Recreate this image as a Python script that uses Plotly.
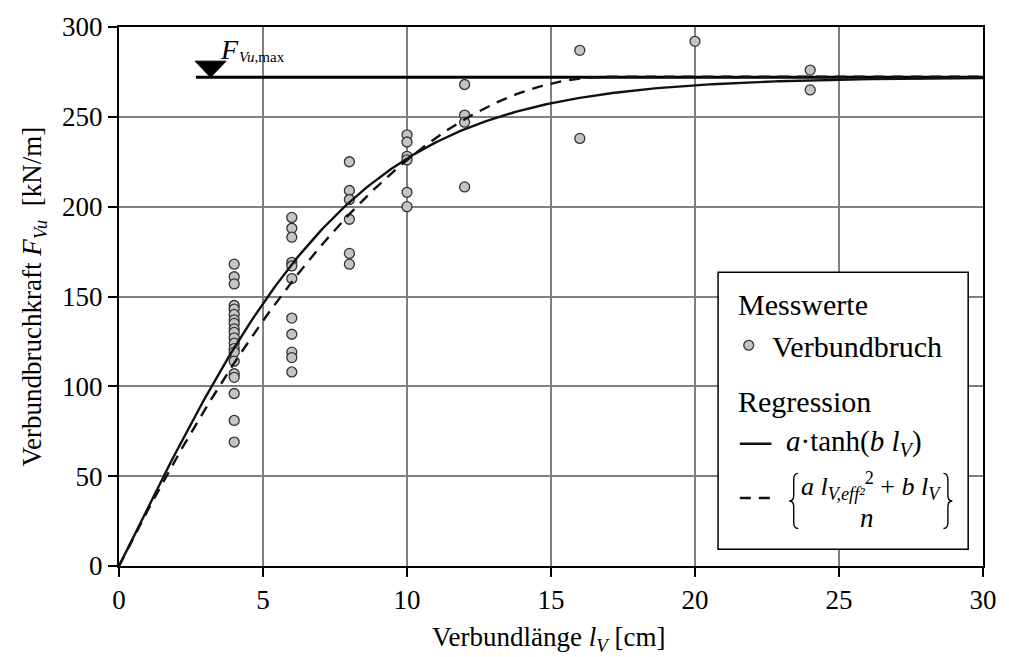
import numpy as np
import plotly.graph_objects as go

# Measured failure loads (Verbundbruch) per bond length
lengths_cm = [4] * 20 + [6] * 11 + [8] * 6 + [10] * 6 + [12] * 4 + [16] * 2 + [20] + [24] * 2
loads_kn_m = [
    168, 161, 157, 145, 143, 140, 137, 135, 132, 130, 127, 124, 121, 119, 114, 107, 105, 96, 81, 69,
    194, 188, 183, 169, 167, 160, 138, 129, 119, 116, 108,
    225, 209, 204, 193, 174, 168,
    240, 236, 228, 226, 208, 200,
    268, 251, 247, 211,
    287, 238,
    292,
    276, 265,
]

# Regression parameters
FVU_MAX = 272.0          # upper limit F_Vu,max [kN/m]
TANH_A, TANH_B = 272.0, 0.12
PARA_A, PARA_B = -0.94, 32.0
MAX_MARK_X = 3.18        # position of the F_Vu,max marker
MAX_LINE_START = 2.67

x_ticks = [0, 5, 10, 15, 20, 25, 30]
y_ticks = [0, 50, 100, 150, 200, 250, 300]

FONT = "Liberation Serif, Times New Roman, serif"

l = np.linspace(0, 30, 301)
f_tanh = TANH_A * np.tanh(TANH_B * l)
l_eff = -PARA_B / (2 * PARA_A)
l_clip = np.minimum(l, l_eff)
f_para = PARA_A * l_clip ** 2 + PARA_B * l_clip

# plot area in pixels (for placing the hand-drawn legend box)
PL, PR, PT, PB = 119, 993, 19, 566


def px(xp):
    return (xp - PL) / (PR - PL)


def py(yp):
    return (PB - yp) / (PB - PT)


fig = go.Figure()

fig.add_trace(go.Scatter(
    x=lengths_cm, y=loads_kn_m, mode="markers",
    marker=dict(size=10, color="#c4c4c4", line=dict(color="#333", width=1.3)),
    showlegend=False))

fig.add_trace(go.Scatter(
    x=[MAX_LINE_START, 30], y=[FVU_MAX, FVU_MAX], mode="lines",
    line=dict(color="black", width=3), hoverinfo="skip", showlegend=False))

fig.add_trace(go.Scatter(
    x=l, y=f_para, mode="lines",
    line=dict(color="#111", width=2.4, dash="11px,8px"), showlegend=False))

fig.add_trace(go.Scatter(
    x=l, y=f_tanh, mode="lines",
    line=dict(color="#111", width=2.4), showlegend=False))

# F_Vu,max marker triangle
tri_w, tri_h = 1.08, 9.0
fig.add_shape(type="path", xref="x", yref="y", layer="above",
              path=(f"M {MAX_MARK_X - tri_w / 2},{FVU_MAX + tri_h} "
                    f"L {MAX_MARK_X + tri_w / 2},{FVU_MAX + tri_h} "
                    f"L {MAX_MARK_X},{FVU_MAX} Z"),
              fillcolor="black", line=dict(color="black", width=1))

ann = []
ann.append(dict(x=px(219), y=py(42), xref="paper", yref="paper", xanchor="left", yanchor="middle",
                text="<i>F</i>", showarrow=False,
                font=dict(family=FONT, size=28, color="black")))
ann.append(dict(x=px(238), y=py(49), xref="paper", yref="paper", xanchor="left", yanchor="middle",
                text="<i>Vu</i>,max", showarrow=False,
                font=dict(family=FONT, size=15, color="black")))

# axis titles
ann.append(dict(x=px(33), y=0.5, xref="paper", yref="paper", textangle=-90,
                xanchor="center", yanchor="middle", showarrow=False,
                text="Verbundbruchkraft <i>F</i><sub><i>Vu</i></sub>  [kN/m]",
                font=dict(family=FONT, size=27, color="black")))
ann.append(dict(x=px(553), y=py(640), xref="paper", yref="paper",
                xanchor="center", yanchor="middle", showarrow=False,
                text="Verbundlänge <i>l</i><sub><i>V</i></sub> [cm]",
                font=dict(family=FONT, size=27, color="black")))

# legend box
fig.add_shape(type="rect", xref="paper", yref="paper", layer="above",
              x0=px(725), x1=px(978), y0=py(549), y1=py(268),
              fillcolor="white", line=dict(color="black", width=1.5))

lf = dict(family=FONT, size=30, color="black")
ann.append(dict(x=px(743), y=py(301), xref="paper", yref="paper", xanchor="left",
                yanchor="middle", text="Messwerte", showarrow=False, font=lf))
fig.add_shape(type="circle", xref="paper", yref="paper", layer="above",
              x0=px(751), x1=px(761), y0=py(347), y1=py(337),
              fillcolor="#c4c4c4", line=dict(color="#333", width=1.3))
ann.append(dict(x=px(778), y=py(343), xref="paper", yref="paper", xanchor="left",
                yanchor="middle", text="Verbundbruch", showarrow=False, font=lf))
ann.append(dict(x=px(743), y=py(399), xref="paper", yref="paper", xanchor="left",
                yanchor="middle", text="Regression", showarrow=False, font=lf))

fig.add_shape(type="line", xref="paper", yref="paper", layer="above",
              x0=px(747), x1=px(779), y0=py(442), y1=py(442),
              line=dict(color="#111", width=2.4))
ann.append(dict(x=px(792), y=py(441), xref="paper", yref="paper", xanchor="left",
                yanchor="middle", showarrow=False, font=dict(family=FONT, size=29, color="black"),
                text="<i>a</i>·tanh(<i>b l</i><sub><i>V</i></sub>)"))

fig.add_shape(type="line", xref="paper", yref="paper", layer="above",
              x0=px(747), x1=px(778), y0=py(497), y1=py(497),
              line=dict(color="#111", width=2.4, dash="11px,8px"))


def brace(x_out, x_in, y0, y1):
    ym = (y0 + y1) / 2
    xm = (x_out + x_in) / 2
    h = y1 - y0
    pts = [
        ("M", [(x_in, y0)]),
        ("Q", [(xm, y0), (xm, y0 + 0.12 * h)]),
        ("L", [(xm, ym - 0.1 * h)]),
        ("Q", [(xm, ym), (x_out, ym)]),
        ("Q", [(xm, ym), (xm, ym + 0.1 * h)]),
        ("L", [(xm, y1 - 0.12 * h)]),
        ("Q", [(xm, y1), (x_in, y1)]),
    ]
    s = ""
    for cmd, cs in pts:
        s += cmd + " " + " ".join(f"{px(a):.5f},{py(b):.5f}" for a, b in cs) + " "
    return s


for xo, xi in [(797, 806), (962, 953)]:
    fig.add_shape(type="path", xref="paper", yref="paper", layer="above",
                  path=brace(xo, xi, 472, 528), line=dict(color="black", width=1.4))

ann.append(dict(x=px(880), y=py(485), xref="paper", yref="paper", xanchor="center",
                yanchor="middle", showarrow=False, font=dict(family=FONT, size=26, color="black"),
                text="<i>a l</i><sub><i>V,eff²</i></sub><sup>2</sup> + <i>b l</i><sub><i>V</i></sub>"))
ann.append(dict(x=px(876), y=py(517), xref="paper", yref="paper", xanchor="center",
                yanchor="middle", showarrow=False, font=dict(family=FONT, size=27, color="black"),
                text="<i>n</i>"))

axis_common = dict(
    showgrid=True, gridcolor="#808080", gridwidth=2,
    showline=True, linecolor="black", linewidth=2, mirror=True,
    ticks="outside", ticklen=9, tickwidth=2, tickcolor="black",
    zeroline=False, tickfont=dict(family=FONT, size=27, color="black"),
)

fig.update_layout(
    width=1009, height=657,
    margin=dict(l=PL, r=1009 - PR, t=PT, b=657 - PB),
    paper_bgcolor="white", plot_bgcolor="white",
    xaxis=dict(range=[0, 30], tickvals=x_ticks, **axis_common),
    yaxis=dict(range=[0, 300], tickvals=y_ticks, **axis_common),
    annotations=ann,
    showlegend=False,
)

fig.write_html("out.html")
